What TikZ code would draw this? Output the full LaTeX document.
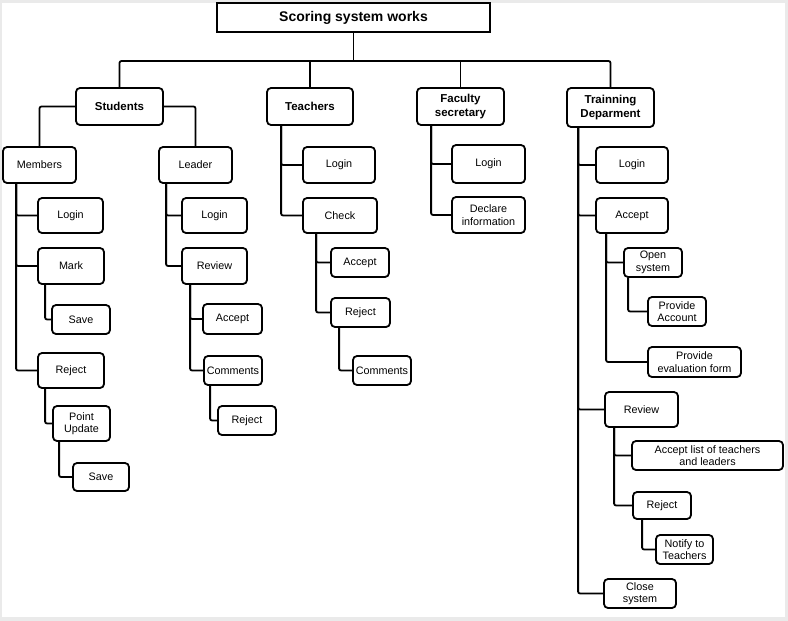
\documentclass[tikz,border=0pt]{standalone}
\usepackage{fontspec}
\setmainfont{Liberation Sans}
\usepackage{tikz}
\usetikzlibrary{positioning, calc}
\definecolor{framegray}{HTML}{EAEAEA}

\tikzset{
  box/.style={draw, rounded corners=4pt, line width=1.8pt, align=center, inner sep=0pt,
    font=\fontsize{10.8}{12.5}\selectfont},
  head/.style={box, font=\fontsize{11.5}{13.5}\selectfont\bfseries},
  sz/.style 2 args={minimum width=#1pt, minimum height=#2pt},
  link/.style={line width=1.8pt, rounded corners=2pt},
}

\begin{document}
\begin{tikzpicture}[x=1pt, y=-1pt]

% frame
\fill[framegray] (0,0) rectangle (788,621);
\fill[white] (2,3) rectangle (785,617);
\useasboundingbox (0,0) rectangle (788,621);

% top
\node[draw, line width=1.8pt, sz={273}{29}, inner sep=0pt, font=\fontsize{14}{16}\selectfont\bfseries] (title) at (353.5,17.5) {Scoring system works};
\coordinate (bus) at (353.5,61);

\node[head, sz={87}{37}] (students) at (119.5,106.5) {Students};
\node[head, sz={86}{37}] (teachers) at (310,106.5) {Teachers};
\node[head, sz={87}{37}] (faculty) at (460.5,106.5) {Faculty\\secretary};
\node[head, sz={87}{39}] (training) at (610.5,107.5) {Trainning\\Deparment};

\draw[link] (title.south) -- (title.south |- bus);
\draw[link] (students.north) |- (training.north |- bus) -- (training.north);
\draw[link] (teachers.north) -- (teachers.north |- bus);
\draw[link] (faculty.north) -- (faculty.north |- bus);

% students
\node[box, sz={73}{36}] (members) at (39.5,165) {Members};
\node[box, sz={73}{36}] (leader) at (195.5,165) {Leader};
\draw[link] (students.west) -| (members.north);
\draw[link] (students.east) -| (leader.north);

\node[box, sz={65}{35}] (mlogin) at (70.5,215.5) {Login};
\node[box, sz={66}{36}] (mark) at (71,266) {Mark};
\node[box, sz={58}{29}] (msave) at (81,319.5) {Save};
\node[box, sz={66}{35}] (mreject) at (71,370.5) {Reject};
\node[box, sz={57}{35}] (pointupd) at (81.5,423.5) {Point\\Update};
\node[box, sz={56}{28}] (psave) at (101,477) {Save};
\draw[link] ([xshift=14pt]members.south west) |- (mlogin.west);
\draw[link] ([xshift=14pt]members.south west) |- (mark.west);
\draw[link] ([xshift=14pt]members.south west) |- (mreject.west);
\draw[link] ([xshift=8pt]mark.south west) |- (msave.west);
\draw[link] ([xshift=8pt]mreject.south west) |- (pointupd.west);
\draw[link] ([xshift=7pt]pointupd.south west) |- (psave.west);

\node[box, sz={65}{35}] (llogin) at (214.5,215.5) {Login};
\node[box, sz={65}{36}] (review) at (214.5,266) {Review};
\node[box, sz={59}{30}] (laccept) at (232.5,319) {Accept};
\node[box, sz={58}{29}] (lcomments) at (233,370.5) {Comments};
\node[box, sz={58}{29}] (lreject) at (247,420.5) {Reject};
\draw[link] ([xshift=8pt]leader.south west) |- (llogin.west);
\draw[link] ([xshift=8pt]leader.south west) |- (review.west);
\draw[link] ([xshift=9pt]review.south west) |- (laccept.west);
\draw[link] ([xshift=9pt]review.south west) |- (lcomments.west);
\draw[link] ([xshift=7pt]lcomments.south west) |- (lreject.west);

% teachers
\node[box, sz={72}{36}] (tlogin) at (339,165) {Login};
\node[box, sz={74}{35}] (check) at (340,215.5) {Check};
\node[box, sz={58}{29}] (taccept) at (360,262.5) {Accept};
\node[box, sz={59}{29}] (treject) at (360.5,312.5) {Reject};
\node[box, sz={58}{29}] (tcomments) at (382,370.5) {Comments};
\draw[link] ([xshift=15pt]teachers.south west) |- (tlogin.west);
\draw[link] ([xshift=15pt]teachers.south west) |- (check.west);
\draw[link] ([xshift=14pt]check.south west) |- (taccept.west);
\draw[link] ([xshift=14pt]check.south west) |- (treject.west);
\draw[link] ([xshift=9pt]treject.south west) |- (tcomments.west);

% faculty secretary
\node[box, sz={73}{38}] (flogin) at (488.5,164) {Login};
\node[box, sz={73}{36}] (declare) at (488.5,215) {Declare\\information};
\draw[link] ([xshift=15pt]faculty.south west) |- (flogin.west);
\draw[link] ([xshift=15pt]faculty.south west) |- (declare.west);

% training department
\node[box, sz={72}{36}] (dlogin) at (632,165) {Login};
\node[box, sz={72}{35}] (daccept) at (632,215.5) {Accept};
\node[box, sz={58}{29}] (opensys) at (653,262.5) {Open\\system};
\node[box, sz={58}{29}] (provacc) at (677,311.5) {Provide\\Account};
\node[box, sz={93}{30}] (proveval) at (694.5,362) {Provide\\evaluation form};
\node[box, sz={73}{35}] (dreview) at (641.5,409.5) {Review};
\node[box, sz={151}{29}] (acclist) at (707.5,455.5) {Accept list of teachers\\and leaders};
\node[box, sz={58}{27}] (dreject) at (662,505.5) {Reject};
\node[box, sz={57}{29}] (notify) at (684.5,549.5) {Notify to\\Teachers};
\node[box, sz={72}{29}] (closesys) at (640,593.5) {Close\\system};
\draw[link] ([xshift=12pt]training.south west) |- (dlogin.west);
\draw[link] ([xshift=12pt]training.south west) |- (daccept.west);
\draw[link] ([xshift=12pt]training.south west) |- (dreview.west);
\draw[link] ([xshift=12pt]training.south west) |- (closesys.west);
\draw[link] ([xshift=11pt]daccept.south west) |- (opensys.west);
\draw[link] ([xshift=11pt]daccept.south west) |- (proveval.west);
\draw[link] ([xshift=5pt]opensys.south west) |- (provacc.west);
\draw[link] ([xshift=10pt]dreview.south west) |- (acclist.west);
\draw[link] ([xshift=10pt]dreview.south west) |- (dreject.west);
\draw[link] ([xshift=10pt]dreject.south west) |- (notify.west);

\end{tikzpicture}
\end{document}
